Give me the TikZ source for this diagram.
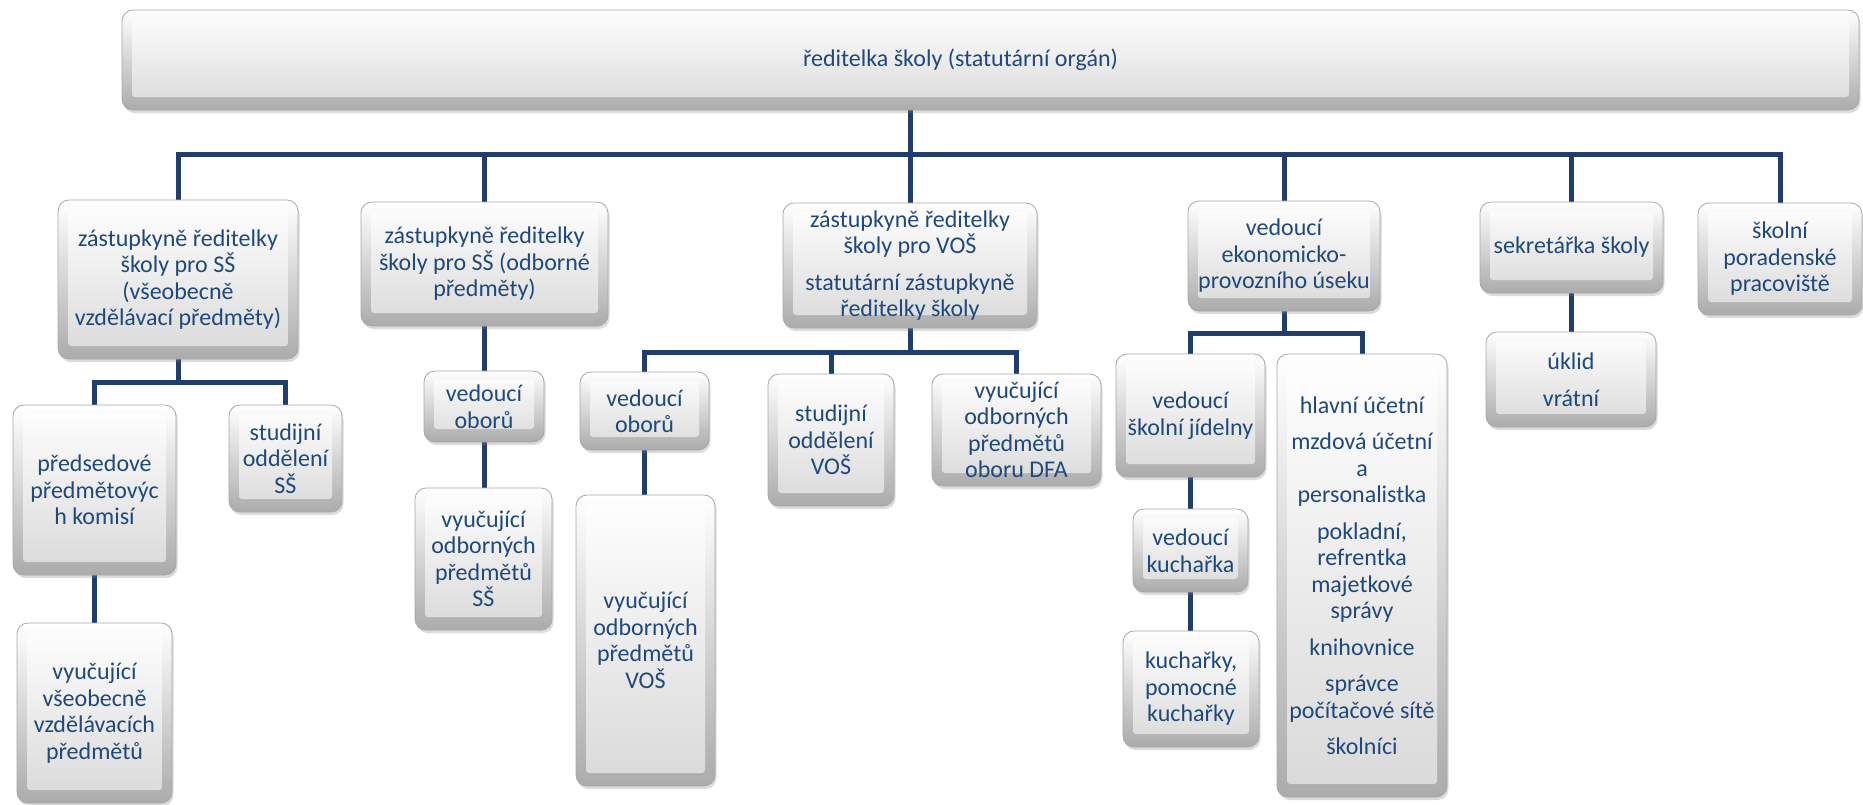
\documentclass[tikz,border=0pt]{standalone}
\usepackage{fontspec}
\setmainfont{Carlito}
\usetikzlibrary{shadows}
\pgfdeclarelayer{background}
\pgfsetlayers{background,main}
\definecolor{txt}{HTML}{1F497D}
\definecolor{conn}{HTML}{1F3E6E}
\definecolor{boxedge}{HTML}{A8A8A8}
\definecolor{bevbot}{HTML}{ABABAB}
\definecolor{facebot}{HTML}{D9D9D9}
\newcommand\fs{\fontsize{24}{26.5}\selectfont}
\newcommand\orgbox[6]{\node[bev, minimum width={(#4)-(#2)}, minimum height={(#5)-(#3)}] (#1) at ({((#2)+(#4))/2},{((#3)+(#5))/2}) {#6};}
\tikzset{
  bev/.style={rectangle, rounded corners=11pt, inner sep=0pt, outer sep=0pt,
    draw=boxedge, line width=0.8pt, top color=white, bottom color=bevbot,
    drop shadow={shadow xshift=1.5pt, shadow yshift=-3pt, opacity=0.28},
    text=txt, font=\fs, align=center,
    path picture={
      \shade[top color=white, bottom color=facebot, rounded corners=3pt]
        ([xshift=10pt,yshift=-9pt]path picture bounding box.north west)
        rectangle ([xshift=-10pt,yshift=13pt]path picture bounding box.south east);
    }},
  conn/.style={draw=conn, line width=5pt},
}
\begin{document}
\begin{tikzpicture}[x=1pt,y=-1pt]
\useasboundingbox (0,0) rectangle (1863,804);
% level 0
\orgbox{top}{122}{10}{1859}{110}{\hspace*{-60pt}ředitelka školy (statutární orgán)}
% level 1
\orgbox{A}{58}{200}{298}{359}{zástupkyně ředitelky\\školy pro SŠ\\(všeobecně\\vzdělávací předměty)}
\orgbox{B}{361}{202}{608}{326}{zástupkyně ředitelky\\školy pro SŠ (odborné\\předměty)}
\orgbox{C}{783}{203}{1037}{328}{zástupkyně ředitelky\\školy pro VOŠ\\[10pt]statutární zástupkyně\\ředitelky školy}
\orgbox{D}{1188}{201}{1380}{311}{vedoucí\\ekonomicko-\\provozního úseku}
\orgbox{E}{1480}{202}{1663}{293}{sekretářka školy}
\orgbox{F}{1698}{203}{1862}{315}{školní\\poradenské\\pracoviště}
% level 2
\orgbox{A1}{13}{405}{176}{575}{předsedové\\předmětovýc\\h komisí}
\orgbox{A2}{229}{405}{342}{512}{studijní\\oddělení\\SŠ}
\orgbox{A3}{17}{623}{172}{803}{vyučující\\všeobecně\\vzdělávacích\\předmětů}
\orgbox{B1}{424}{371}{544}{442}{vedoucí\\oborů}
\orgbox{B2}{415}{488}{552}{630}{vyučující\\odborných\\předmětů\\SŠ}
\orgbox{C1}{580}{372}{709}{450}{vedoucí\\oborů}
\orgbox{C2}{768}{374}{894}{506}{studijní\\oddělení\\VOŠ}
\orgbox{C3}{932}{374}{1101}{486}{vyučující\\odborných\\předmětů\\oboru DFA}
\orgbox{C4}{576}{495}{715}{786}{vyučující\\odborných\\předmětů\\VOŠ}
\orgbox{D1}{1116}{354}{1265}{477}{vedoucí\\školní jídelny}
\orgbox{D2}{1277}{354}{1447}{797}{hlavní účetní\\[10pt]mzdová účetní\\a\\personalistka\\[10pt]pokladní,\\refrentka\\majetkové\\správy\\[10pt]knihovnice\\[10pt]správce\\počítačové sítě\\[10pt]školníci}
\orgbox{D3}{1133}{509}{1248}{592}{vedoucí\\kuchařka}
\orgbox{D4}{1123}{631}{1259}{747}{kuchařky,\\pomocné\\kuchařky}
\orgbox{E1}{1486}{332}{1656}{427}{úklid\\[10pt]vrátní}
% connectors
\coordinate (bus) at (910,154);
\coordinate (abus) at (178,382);
\coordinate (cbus) at (910,352);
\coordinate (dbus) at (1284,333);
\begin{pgfonlayer}{background}
\fill[white] (0,0) rectangle (1863,804);
\draw[conn] (C.north |- top.south) -- (C.north);
\draw[conn] (A.north) |- (bus) -| (F.north);
\draw[conn] (B.north) -- (B.north |- bus);
\draw[conn] (D.north) -- (D.north |- bus);
\draw[conn] (E.north) -- (E.north |- bus);
% A
\draw[conn] (A.south) -- (abus);
\draw[conn] (A1.north) |- (abus) -| (A2.north);
\draw[conn] (A1.south) -- (A3.north -| A1.south);
% B
\draw[conn] (B.south) -- (B1.north -| B.south);
\draw[conn] (B1.south) -- (B2.north -| B1.south);
% C
\draw[conn] (C.south) -- (cbus);
\draw[conn] (C1.north) |- (cbus) -| (C3.north);
\draw[conn] (C2.north) -- (C2.north |- cbus);
\draw[conn] (C1.south) -- (C4.north -| C1.south);
% D
\draw[conn] (D.south) -- (dbus);
\draw[conn] (D1.north) |- (dbus) -| (D2.north);
\draw[conn] (D1.south) -- (D3.north -| D1.south);
\draw[conn] (D3.south) -- (D4.north -| D3.south);
% E
\draw[conn] (E.south) -- (E1.north -| E.south);
\end{pgfonlayer}
\end{tikzpicture}
\end{document}
